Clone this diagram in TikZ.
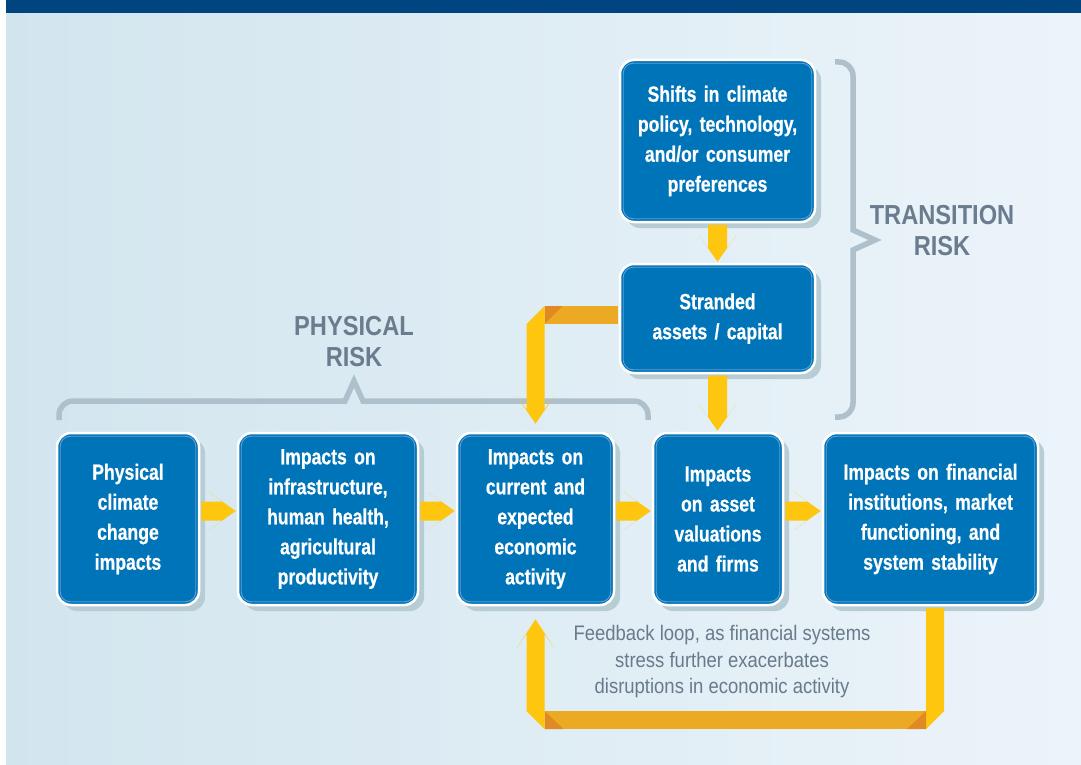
\documentclass[tikz,border=0pt]{standalone}
\usepackage{fontspec}
\setmainfont{Liberation Sans}
\newfontfamily\boxfont[FakeStretch=0.8,BoldFeatures={FakeBold=0.6}]{Liberation Sans}
\newfontfamily\labfont[FakeStretch=0.86]{Liberation Sans}
\newfontfamily\notefont[FakeStretch=0.88]{Liberation Sans}
\usetikzlibrary{calc,shadows}
\definecolor{boxblue}{RGB}{0,116,184}
\definecolor{innerblue}{RGB}{96,160,212}
\definecolor{shadowc}{RGB}{184,204,212}
\definecolor{bgleft}{RGB}{210,229,238}
\definecolor{bgright}{RGB}{236,244,250}
\definecolor{topblue}{RGB}{0,68,128}
\definecolor{yel}{RGB}{254,198,15}
\definecolor{orb}{RGB}{236,169,35}
\definecolor{dor}{RGB}{225,138,35}
\definecolor{brk}{RGB}{175,192,205}
\definecolor{labgray}{RGB}{106,124,142}
\definecolor{notegray}{RGB}{104,122,140}
\tikzset{
  box/.style={rectangle, rounded corners=14pt, fill=boxblue, draw=white, line width=2.5pt,
    text=white, align=center, inner sep=0pt,
    font=\boxfont\bfseries\fontsize{22}{30}\selectfont,
    general shadow={fill=shadowc, shadow xshift=6pt, shadow yshift=-6pt}},
  innerl/.style={draw=innerblue, line width=0.9pt, rounded corners=10pt},
  yarrow/.style={fill=yel},
  bracket/.style={draw=brk, line width=5.5pt},
  risklab/.style={text=labgray, align=center, font=\labfont\bfseries\fontsize{27.5}{31}\selectfont},
}
\newcommand\boxinner[1]{\draw[innerl] ([xshift=4.5pt,yshift=-4.5pt]#1.north west) rectangle ([xshift=-4.5pt,yshift=4.5pt]#1.south east);}
\newcommand\harrow[2]{\fill[yarrow] let \p1=(#1.east), \p2=(#2.west) in
  (\x1+1pt,\y1+17.5pt) -- (\x2-14.5pt,\y1+17.5pt) -- (\x2-28pt,\y1+27pt) -- (\x2-1pt,\y1+8pt)
  -- (\x2-28pt,\y1-11pt) -- (\x2-14.5pt,\y1-1.5pt) -- (\x1+1pt,\y1-1.5pt) -- cycle;}
\newcommand\varrow[2]{\fill[yarrow] let \p1=(#1.south), \p2=(#2.north) in
  (\x1-9.5pt,\y1-1.25pt) -- (\x1-9.5pt,\y2+14.5pt) -- (\x1-19pt,\y2+28pt) -- (\x1,\y2+1pt)
  -- (\x1+19pt,\y2+28pt) -- (\x1+9.5pt,\y2+14.5pt) -- (\x1+9.5pt,\y1-1.25pt) -- cycle;}
\begin{document}
\begin{tikzpicture}[x=1pt,y=-1pt]
\useasboundingbox (0,0) rectangle (1081,765);
\shade[left color=bgleft, right color=bgright] (6,0) rectangle (1081,765);
\fill[topblue] (6,0) rectangle (1081,13);

% brackets
\draw[bracket] (59,420) [rounded corners=14pt] -- (59,401) -- (200,401) [sharp corners] -- (345,401) -- (354,381) -- (363,401) -- (500,401) [rounded corners=14pt] -- (648,401) -- (648,420);
\draw[bracket] (835,62) [rounded corners=14pt] -- (853,62) -- (853,150) [sharp corners] -- (853,230) -- (875,240) -- (853,250) -- (853,330) [rounded corners=14pt] -- (853,417) -- (835,417);

\node[risklab] (phys) at (354,342) {PHYSICAL\\RISK};
\node[risklab] (trans) at (942,231) {TRANSITION\\RISK};

% boxes
\node[box, minimum width=142pt, minimum height=172pt, text width=134pt] (b1) at (128,519) {Physical\\climate\\change\\impacts};
\node[box, minimum width=180pt, minimum height=172pt, text width=172pt] (b2) at (328,519) {Impacts on\\infrastructure,\\human health,\\agricultural\\productivity};
\node[box, minimum width=157pt, minimum height=172pt, text width=149pt] (b3) at (535.5,519) {Impacts on\\current and\\expected\\economic\\activity};
\node[box, minimum width=130pt, minimum height=172pt, text width=124pt] (b4) at (718,519) {Impacts\\on asset\\valuations\\and firms};
\node[box, minimum width=215pt, minimum height=172pt, text width=207pt] (b5) at (930.5,519) {Impacts on financial\\institutions, market\\functioning, and\\system stability};
\node[box, minimum width=195pt, minimum height=162pt, text width=187pt] (b6) at (717.5,141) {Shifts in climate\\policy, technology,\\and/or consumer\\preferences};
\node[box, minimum width=195pt, minimum height=109pt, text width=187pt] (b7) at (717.5,318.5) {Stranded\\assets / capital};
\foreach \b in {b1,b2,b3,b4,b5,b6,b7} {\boxinner{\b}}

% straight arrows
\harrow{b1}{b2}
\harrow{b2}{b3}
\harrow{b3}{b4}
\harrow{b4}{b5}
\varrow{b6}{b7}
\varrow{b7}{b4}

% elbow arrow stranded -> economic activity
\fill[orb] let \p1=(b7.west), \p2=(b3.north) in (\x2+9pt,\y1+12.5pt) rectangle (\x1-1.25pt,\y1-5.5pt);
\fill[dor] let \p1=(b7.west), \p2=(b3.north) in (\x2+9pt,\y1+12.5pt) -- (\x2+27pt,\y1+12.5pt) -- (\x2+9pt,\y1-5.5pt) -- cycle;
\fill[yarrow] let \p1=(b7.west), \p2=(b3.north) in
  (\x2-9pt,\y1-5.5pt) -- (\x2+9pt,\y1+12.5pt) -- (\x2+9pt,\y2+22.5pt) -- (\x2+19pt,\y2+36pt)
  -- (\x2,\y2+8pt) -- (\x2-19pt,\y2+36pt) -- (\x2-9pt,\y2+22.5pt) -- cycle;

% feedback loop
\coordinate (loopy) at (536,720);
\fill[yarrow] let \p1=(b5.south), \p3=(loopy) in
  (\x1-4.5pt,\y1-1.5pt) -- (\x1+13.5pt,\y1-1.5pt) -- (\x1+13.5pt,\y3+9pt) -- (\x1-4.5pt,\y3-9pt) -- cycle;
\fill[orb] let \p1=(b5.south), \p2=(b3.south), \p3=(loopy) in (\x2+9pt,\y3-9pt) rectangle (\x1-4.5pt,\y3+9pt);
\fill[dor] let \p1=(b5.south), \p3=(loopy) in (\x1-4.5pt,\y3+9pt) -- (\x1-4.5pt,\y3-9pt) -- (\x1-23.5pt,\y3-9pt) -- cycle;
\fill[dor] let \p2=(b3.south), \p3=(loopy) in (\x2+9pt,\y3+9pt) -- (\x2+9pt,\y3-9pt) -- (\x2+28pt,\y3-9pt) -- cycle;
\fill[yarrow] let \p2=(b3.south), \p3=(loopy) in
  (\x2+9pt,\y3-9pt) -- (\x2-9pt,\y3+9pt) -- (\x2-9pt,\y2-27.5pt) -- (\x2-19pt,\y2-42pt)
  -- (\x2,\y2-13pt) -- (\x2+19pt,\y2-42pt) -- (\x2+9pt,\y2-27.5pt) -- cycle;

\node[text=notegray, align=center, font=\notefont\fontsize{21}{26.5}\selectfont] (note) at (722,662)
  {Feedback loop, as financial systems\\stress further exacerbates\\disruptions in economic activity};
\end{tikzpicture}
\end{document}
